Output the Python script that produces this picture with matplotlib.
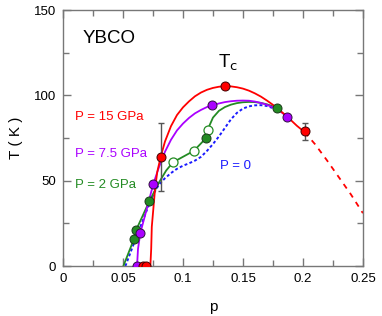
import matplotlib
matplotlib.use('Agg')
import matplotlib.pyplot as plt
from matplotlib.ticker import MultipleLocator

plt.rcParams['font.family'] = ['Liberation Sans', 'DejaVu Sans']

# measured points (p, Tc)
red_p = [0.0664, 0.069, 0.0814, 0.135, 0.2014]
red_T = [0, 0, 64, 105.4, 79]
red_err_p = [0.0814, 0.2014]
red_err_T = [64, 79]
red_err = [20, 5]

mag_p = [0.0617, 0.0644, 0.0753, 0.124, 0.187]
mag_T = [0, 19.3, 48.2, 94.1, 87.5]

grn_p = [0.0592, 0.0608, 0.0719, 0.119, 0.1786]
grn_T = [16, 20.9, 37.9, 74.8, 92.6]
grn_open_p = [0.0916, 0.109, 0.1206]
grn_open_T = [60.8, 67.5, 80]

# curves
red_cp = [0.0728, 0.0735, 0.074, 0.0767, 0.0785, 0.0814, 0.085, 0.09, 0.095,
          0.1, 0.105, 0.11, 0.115, 0.12, 0.125, 0.13, 0.135, 0.14, 0.145,
          0.15, 0.155, 0.16, 0.165, 0.17, 0.175, 0.18, 0.185, 0.19, 0.195,
          0.2014]
red_cT = [0, 10, 23, 45, 55, 64, 73, 82, 88.5,
          93, 96.5, 99.5, 101.7, 103.3, 104.4, 105.1, 105.4, 105.3, 104.8,
          104, 102.8, 101.2, 99.3, 97, 94.5, 91.7, 88.7, 85.5, 82.2,
          78.5]
red_dp = [0.2014, 0.21, 0.22, 0.23, 0.24, 0.25]
red_dT = [78.5, 71.5, 62, 52, 42, 31]

mag_cp = [0.0617, 0.0625, 0.0644, 0.07, 0.0753, 0.08, 0.085, 0.09, 0.095,
          0.1, 0.105, 0.11, 0.115, 0.12, 0.124, 0.13, 0.135, 0.14, 0.145,
          0.15, 0.155, 0.16, 0.165, 0.17, 0.175, 0.18, 0.187]
mag_cT = [0, 10, 19.3, 34, 48.2, 58, 67, 74, 79.5,
          83.5, 86.8, 89.5, 91.5, 93.2, 94.1, 95.3, 96.1, 96.6, 96.9,
          97, 96.9, 96.4, 95.6, 94.5, 93, 91.2, 87.5]

grn_cp = [0.0503, 0.0592, 0.0608, 0.0719, 0.08, 0.086, 0.0916, 0.109, 0.119,
          0.1206, 0.125, 0.13, 0.135, 0.14, 0.145, 0.15, 0.155, 0.16, 0.165,
          0.17, 0.175, 0.1786]
grn_cT = [0, 16, 20.9, 37.9, 49, 56, 60.8, 67.5, 74.8,
          80, 87, 91, 93.2, 94.6, 95.5, 96, 96.2, 96.1, 95.6,
          94.8, 93.6, 92.6]

blu_cp = [0.052, 0.06, 0.07, 0.076, 0.08, 0.085, 0.09, 0.095, 0.1, 0.105,
          0.11, 0.115, 0.12, 0.125, 0.13, 0.135, 0.14, 0.145, 0.15, 0.155,
          0.16, 0.165, 0.17, 0.178]
blu_cT = [0, 15, 33, 43, 47.8, 51.5, 54.5, 57, 58.8, 60.2,
          61.8, 64, 67.5, 71.5, 76, 81, 86, 89.8, 92.3, 93.6,
          94.2, 94.3, 93.8, 91.8]

c_red = '#ff0000'
c_mag = '#aa00ff'
c_grn = '#238b23'
c_blu = '#1a1aff'

fig = plt.figure(figsize=(3.82, 3.16), dpi=100)
ax = fig.add_axes([0.165, 0.158, 0.785, 0.81])

ax.plot(blu_cp, blu_cT, color=c_blu, lw=1.4, ls=(0, (1.5, 1.2)))
ax.plot(grn_cp, grn_cT, color=c_grn, lw=1.3)
ax.plot(mag_cp, mag_cT, color=c_mag, lw=1.3)
ax.plot(red_cp, red_cT, color=c_red, lw=1.3)
ax.plot(red_dp, red_dT, color=c_red, lw=1.3, ls=(0, (3, 3)))

ax.errorbar(red_err_p, red_err_T, yerr=red_err, fmt='none', ecolor='#555555',
            elinewidth=1, capsize=2.5, capthick=1, zorder=3)

ms = 6.5
ax.plot(grn_open_p, grn_open_T, 'o', ms=ms, mfc='white', mec=c_grn, mew=0.9, zorder=4)
ax.plot(grn_p, grn_T, 'o', ms=ms, mfc=c_grn, mec='#1a3a1a', mew=0.7, zorder=4)
ax.plot(mag_p, mag_T, 'o', ms=ms, mfc=c_mag, mec='#301040', mew=0.7, zorder=4)
ax.plot(red_p, red_T, 'o', ms=ms, mfc=c_red, mec='#400000', mew=0.7, zorder=5)

ax.text(0.016, 133.6, 'YBCO', fontsize=13.5, va='center')
ax.text(0.129, 119, r'T$_{\rm c}$', fontsize=13.5, va='center')
ax.text(0.01, 87.5, 'P = 15 GPa', color=c_red, fontsize=9.5, va='center')
ax.text(0.01, 65.4, 'P = 7.5 GPa', color=c_mag, fontsize=9.5, va='center')
ax.text(0.01, 47.5, 'P = 2 GPa', color=c_grn, fontsize=9.5, va='center')
ax.text(0.131, 58.8, 'P = 0', color=c_blu, fontsize=9.5, va='center')

ax.set_xlim(0, 0.25)
ax.set_ylim(0, 150)
ax.xaxis.set_minor_locator(MultipleLocator(0.025))
ax.yaxis.set_minor_locator(MultipleLocator(25))
ax.set_xticks([0, 0.05, 0.1, 0.15, 0.2, 0.25])
ax.set_xticklabels(['0', '0.05', '0.1', '0.15', '0.2', '0.25'])
ax.set_yticks([0, 50, 100, 150])
ax.set_yticklabels(['0', '50', '100', '150'])
ax.tick_params(which='both', direction='in', top=True, right=True,
               color='#777777', labelsize=9.5, pad=5)
ax.tick_params(which='major', length=6, width=1)
ax.tick_params(which='minor', length=4, width=1)
for s in ax.spines.values():
    s.set_color('#777777')
    s.set_linewidth(1)

ax.set_xlabel('p', fontsize=11)
ax.set_ylabel('T ( K )', fontsize=11)
ax.xaxis.set_label_coords(0.5, -0.133)
ax.yaxis.set_label_coords(-0.135, 0.5)

fig.savefig('out.png', dpi=100)
